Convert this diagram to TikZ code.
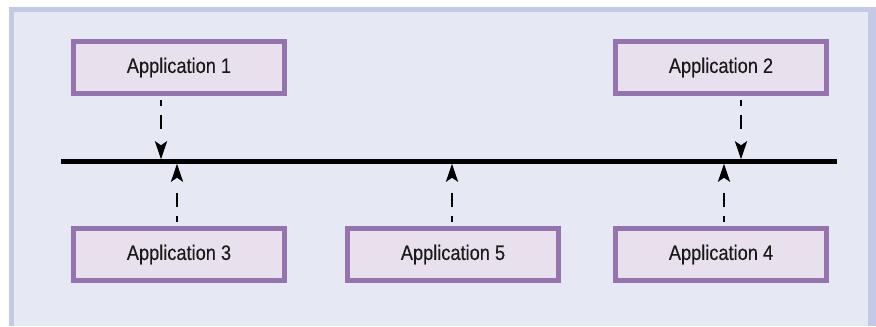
\documentclass[tikz,border=0pt]{standalone}
\usepackage{fontspec}
\setmainfont{Liberation Sans}[FakeStretch=0.87,FakeBold=0.3]
\usetikzlibrary{arrows.meta}
\definecolor{frameC}{RGB}{196,202,230}
\definecolor{innerC}{RGB}{230,232,244}
\definecolor{boxline}{RGB}{148,115,175}
\definecolor{boxfill}{RGB}{233,224,238}
\definecolor{textC}{RGB}{26,26,26}
\begin{document}
\begin{tikzpicture}[x=0.75pt,y=-0.75pt,
  appbox/.style={draw=boxline, fill=boxfill, line width=3.75pt,
    minimum width=158.25pt, minimum height=39pt, inner sep=0pt,
    font=\fontsize{15.7pt}{18pt}\selectfont, text=textC},
  conn/.style={line width=2pt, black,
    dash pattern=on 4.5pt off 6.75pt on 10.5pt off 18pt, dash phase=36.75pt,
    -{Stealth[length=13.5pt,width=9pt,inset=3pt]}},
  bus/.style={line width=3.4pt, black}]
\useasboundingbox (0,0) rectangle (876,326);
\fill[white] (0,0) rectangle (876,326);
\fill[frameC] (9,7) rectangle (876,326);
\fill[innerC] (14,12) rectangle (868,326);

\node[appbox] (a1) at (179,67.5) {Application 1};
\node[appbox] (a2) at (721,67.5) {Application 2};
\node[appbox] (a3) at (179,254.5) {Application 3};
\node[appbox] (a4) at (721,254.5) {Application 4};
\node[appbox] (a5) at (453,254.5) {Application 5};

\coordinate (bl) at (61,161.5);
\coordinate (br) at (837,161.5);
\draw[bus] (bl) -- (br);

\coordinate (t1) at (161,159.3);
\coordinate (t2) at (741,159.3);
\coordinate (t3) at (177,163.7);
\coordinate (t5) at (452,163.7);
\coordinate (t4) at (724,163.7);

\draw[conn] (a1.south -| t1) -- (t1);
\draw[conn] (a2.south -| t2) -- (t2);
\draw[conn] (a3.north -| t3) -- (t3);
\draw[conn] (a5.north -| t5) -- (t5);
\draw[conn] (a4.north -| t4) -- (t4);
\end{tikzpicture}
\end{document}
